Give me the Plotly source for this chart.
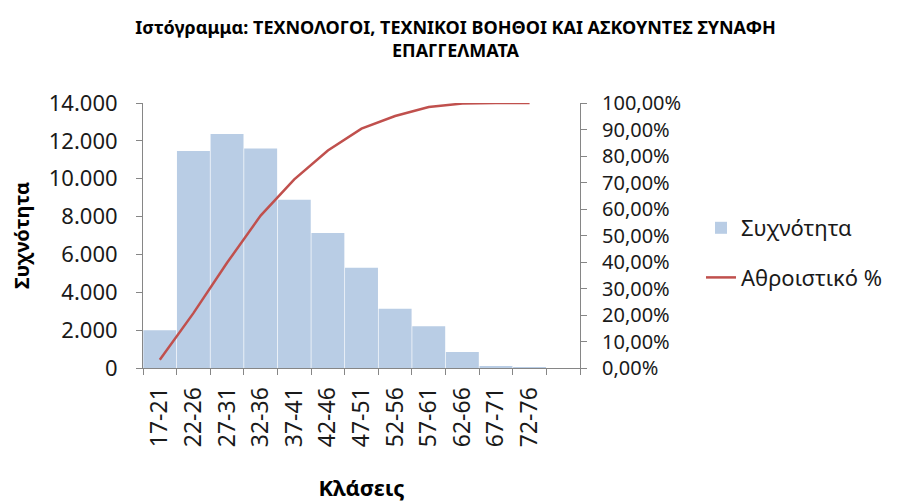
import plotly.graph_objects as go

classes = ["17-21", "22-26", "27-31", "32-36", "37-41", "42-46",
           "47-51", "52-56", "57-61", "62-66", "67-71", "72-76", " "]
frequency = [1990, 11460, 12360, 11590, 8890, 7130, 5300, 3130, 2200, 850, 100, 5, 0]
cumulative = [0.031, 0.207, 0.397, 0.575, 0.712, 0.821, 0.903, 0.951, 0.985, 0.998, 0.9997, 1.0]

font_family = "Noto Sans, Open Sans, DejaVu Sans, sans-serif"
axis_col = "#868686"
text_col = "#1a1a1a"

# page has an 8px body margin; figure coordinates are offset accordingly
W, H = 895, 496
L, T, R, B = 135, 95, 323, 136
plot_h = H - T - B

fig = go.Figure()
fig.add_trace(go.Bar(
    x=classes, y=frequency, name="Συχνότητα", legendgroup="a",
    marker=dict(color="#B9CDE5", line=dict(width=0)),
))
fig.add_trace(go.Scatter(
    x=classes[:len(cumulative)], y=cumulative, name="Αθροιστικό %", legendgroup="b",
    mode="lines", line=dict(color="#C0504D", width=2.5), yaxis="y2",
))

fig.update_layout(
    width=W, height=H,
    separators=",.",
    paper_bgcolor="white", plot_bgcolor="white",
    margin=dict(l=L, r=R, t=T, b=B),
    bargap=0.02,
    font=dict(family=font_family, color=text_col),
    title=dict(
        text="<b>Ιστόγραμμα: ΤΕΧΝΟΛΟΓΟΙ, ΤΕΧΝΙΚΟΙ ΒΟΗΘΟΙ ΚΑΙ ΑΣΚΟΥΝΤΕΣ ΣΥΝΑΦΗ<br>ΕΠΑΓΓΕΛΜΑΤΑ</b>",
        x=0.5, xanchor="center", y=1 - 25.5 / H, yanchor="middle",
        font=dict(size=18, color="black"),
    ),
    xaxis=dict(
        type="category", tickson="boundaries", ticks="outside", ticklen=6,
        tickcolor=axis_col, showline=True, linecolor=axis_col, linewidth=1,
        tickangle=-90, tickfont=dict(size=23), showgrid=False, automargin=False,
        ticklabelstandoff=9,
        range=[-0.5, len(classes) - 0.5],
        title=dict(text="<b>Κλάσεις</b>", font=dict(size=22, color="black"), standoff=34),
    ),
    yaxis=dict(
        range=[0, 14000], dtick=2000, tickformat=",.0f",
        ticks="outside", ticklen=6, tickcolor=axis_col, automargin=False,
        ticklabelstandoff=14,
        showline=True, linecolor=axis_col, linewidth=1, showgrid=False, zeroline=False,
        tickfont=dict(size=22),
        title=dict(text="<b>Συχνότητα</b>", font=dict(size=20, color="black"), standoff=26),
    ),
    yaxis2=dict(
        overlaying="y", side="right", range=[0, 1], dtick=0.1, tickformat=".2%",
        ticks="outside", ticklen=6, tickcolor=axis_col, automargin=False,
        ticklabelstandoff=11,
        showline=True, linecolor=axis_col, linewidth=1, showgrid=False, zeroline=False,
        tickfont=dict(size=20),
    ),
    legend=dict(
        x=(701 - L - 8) / (W - L - R), xanchor="left",
        y=(360 - 245) / plot_h, yanchor="middle",
        font=dict(size=22), traceorder="grouped", tracegroupgap=18,
        bgcolor="rgba(0,0,0,0)",
    ),
)

fig.write_html("out.html")
